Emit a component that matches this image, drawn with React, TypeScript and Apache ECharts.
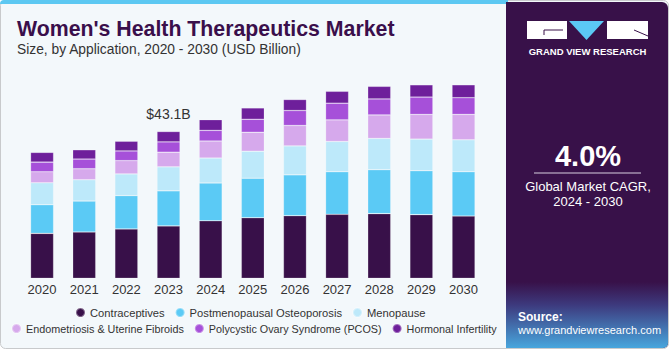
import React, { useEffect, useRef } from "react";
import * as echarts from "echarts";

const years = ["2020", "2021", "2022", "2023", "2024", "2025", "2026", "2027", "2028", "2029", "2030"];
const contraceptives = [13.2, 13.6, 14.5, 15.4, 16.9, 17.8, 18.4, 18.8, 19.0, 18.7, 18.3];
const postmenopausal = [8.4, 9.1, 9.8, 10.3, 11.1, 11.6, 12.0, 12.5, 12.9, 12.9, 13.0];
const menopause = [6.46, 6.26, 6.37, 7.05, 7.34, 7.93, 8.5, 8.9, 9.2, 9.3, 9.4];
const endometriosis = [3.23, 3.23, 3.9, 4.3, 5.0, 5.58, 6.0, 6.35, 6.9, 7.25, 7.46];
const pcos = [2.85, 2.85, 2.85, 3.03, 3.13, 3.82, 4.4, 4.9, 4.7, 5.1, 4.9];
const hormonal = [2.85, 2.73, 2.85, 3.05, 3.13, 3.33, 3.23, 3.5, 3.7, 3.6, 3.8];
const seriesNames = [
  "Contraceptives",
  "Postmenopausal Osteoporosis",
  "Menopause",
  "Endometriosis & Uterine Fibroids",
  "Polycystic Ovary Syndrome (PCOS)",
  "Hormonal Infertility",
];
const colors = ["#381049", "#5BCAF5", "#BDE9FA", "#D6A9EC", "#A650D9", "#6E1F9B"];
const highlightIndex = 3;
const highlightLabel = "$43.1B";

export default function App() {
  const ref = useRef<HTMLDivElement>(null);
  useEffect(() => {
    if (!ref.current) return;
    const chart = echarts.init(ref.current, undefined, { renderer: "svg" });
    const values = [contraceptives, postmenopausal, menopause, endometriosis, pcos, hormonal];
    const series = values.map((arr, i) => ({
      name: seriesNames[i],
      type: "bar",
      stack: "total",
      barWidth: 23,
      itemStyle: { color: colors[i], borderColor: "rgba(255,255,255,0.35)", borderWidth: 0.6 },
      data: arr.map((v, j) =>
        i === values.length - 1 && j === highlightIndex
          ? {
              value: v,
              label: {
                show: true,
                position: "top",
                distance: 11,
                formatter: highlightLabel,
                fontSize: 14,
                color: "#333",
                fontFamily: "Liberation Sans, Arial",
              },
            }
          : v
      ),
    }));
    const font = "Liberation Sans, Arial, sans-serif";
    chart.setOption({
      animation: false,
      textStyle: { fontFamily: font },
      grid: { left: 21, right: 185.4, top: 74.1, bottom: 71.7 },
      xAxis: {
        type: "category",
        data: years,
        axisLine: { show: false },
        axisTick: { show: false },
        axisLabel: { color: "#333", fontSize: 13, margin: 5, fontFamily: font },
      },
      yAxis: { type: "value", min: 0, max: 60, show: false, splitLine: { show: false } },
      legend: [
        {
          data: seriesNames.slice(0, 3),
          top: 302,
          left: 70,
          icon: "circle",
          itemWidth: 9,
          itemHeight: 9,
          itemGap: 10,
          textStyle: { color: "#333", fontSize: 11.2, fontFamily: font },
        },
        {
          data: seriesNames.slice(3),
          top: 318,
          left: 6,
          icon: "circle",
          itemWidth: 9,
          itemHeight: 9,
          itemGap: 10,
          textStyle: { color: "#333", fontSize: 10.8, fontFamily: font },
        },
      ],
      graphic: [
        {
          type: "rect",
          z: -10,
          silent: true,
          shape: { x: 0.5, y: 0.5, width: 668, height: 348, r: 5 },
          style: { fill: "#F3F8FB", stroke: "#C8CACC", lineWidth: 1 },
        },
        {
          type: "rect",
          z: -9,
          silent: true,
          shape: { x: 0, y: 0, width: 508, height: 4, r: [4, 0, 0, 0] },
          style: { fill: "#5CC8F2" },
        },
        {
          type: "text",
          left: 17,
          top: 18,
          style: {
            text: "Women's Health Therapeutics Market",
            fill: "#3A0F4B",
            font: "900 21.3px Liberation Sans, Arial, sans-serif",
          },
        },
        {
          type: "text",
          left: 17,
          top: 42,
          style: {
            text: "Size, by Application, 2020 - 2030 (USD Billion)",
            fill: "#333",
            font: "13.8px Liberation Sans, Arial, sans-serif",
          },
        },
        // Right panel
        {
          type: "rect",
          z: -5,
          silent: true,
          shape: { x: 506, y: 2, width: 162, height: 346, r: [0, 6, 5, 0] },
          style: { fill: "#381149" },
        },
        {
          type: "rect",
          z: -4,
          silent: true,
          shape: { x: 506, y: 282, width: 162, height: 66, r: [0, 0, 5, 0] },
          style: {
            fill: new echarts.graphic.LinearGradient(0, 0, 0, 1, [
              { offset: 0, color: "#381149" },
              { offset: 0.35, color: "#3D3A7E" },
              { offset: 1, color: "#48A6DD" },
            ]),
          },
        },
        // Logo
        { type: "rect", shape: { x: 527, y: 21, width: 40, height: 18 }, style: { fill: "#fff" } },
        { type: "line", shape: { x1: 544, y1: 30, x2: 563, y2: 30 }, style: { stroke: "#381149", lineWidth: 1 } },
        { type: "line", shape: { x1: 544, y1: 30, x2: 544, y2: 35 }, style: { stroke: "#381149", lineWidth: 1 } },
        { type: "polygon", shape: { points: [[569, 21], [604, 21], [586.5, 40]] }, style: { fill: "#5BC8F5" } },
        { type: "rect", shape: { x: 607, y: 21, width: 41, height: 18 }, style: { fill: "#fff" } },
        { type: "line", shape: { x1: 634, y1: 30, x2: 648, y2: 36 }, style: { stroke: "#381149", lineWidth: 1 } },
        {
          type: "text",
          x: 587.5,
          y: 51,
          style: {
            text: "GRAND VIEW RESEARCH",
            fill: "#fff",
            font: "bold 9.5px Liberation Sans, Arial, sans-serif",
            align: "center",
            verticalAlign: "middle",
          },
        },
        {
          type: "text",
          x: 588,
          y: 156,
          style: {
            text: "4.0%",
            fill: "#fff",
            font: "bold 29px Liberation Sans, Arial, sans-serif",
            align: "center",
            verticalAlign: "middle",
          },
        },
        { type: "line", shape: { x1: 534, y1: 173, x2: 641, y2: 173 }, style: { stroke: "#D8D0E0", lineWidth: 1 } },
        {
          type: "text",
          x: 588,
          y: 186.5,
          style: {
            text: "Global Market CAGR,",
            fill: "#fff",
            font: "13px Liberation Sans, Arial, sans-serif",
            align: "center",
            verticalAlign: "middle",
          },
        },
        {
          type: "text",
          x: 588,
          y: 201,
          style: {
            text: "2024 - 2030",
            fill: "#fff",
            font: "13px Liberation Sans, Arial, sans-serif",
            align: "center",
            verticalAlign: "middle",
          },
        },
        {
          type: "text",
          x: 518,
          y: 316.5,
          style: {
            text: "Source:",
            fill: "#fff",
            font: "bold 12px Liberation Sans, Arial, sans-serif",
            verticalAlign: "middle",
          },
        },
        {
          type: "text",
          x: 518,
          y: 330,
          style: {
            text: "www.grandviewresearch.com",
            fill: "#fff",
            font: "11px Liberation Sans, Arial, sans-serif",
            verticalAlign: "middle",
          },
        },
      ],
      series,
    });
    return () => chart.dispose();
  }, []);
  return (
    <div
      ref={ref}
      style={{ position: "fixed", left: 0, top: 0, width: 670, height: 350, background: "#fff" }}
    />
  );
}
